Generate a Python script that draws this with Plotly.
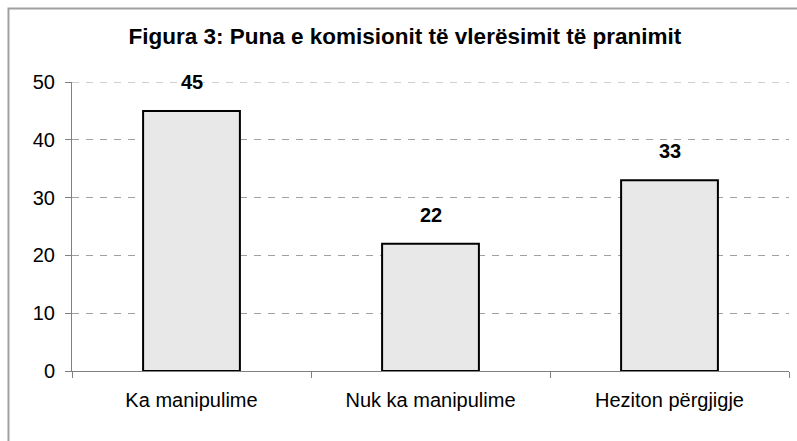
import plotly.graph_objects as go

categories = ["Ka manipulime", "Nuk ka manipulime", "Heziton përgjigje"]
values = [45, 22, 33]
title_text = "Figura 3: Puna e komisionit të vlerësimit të pranimit"
y_ticks = [0, 10, 20, 30, 40, 50]

FONT = "Liberation Sans, Arial, sans-serif"

fig = go.Figure()
fig.add_trace(go.Bar(
    x=categories, y=values, width=0.405,
    marker=dict(color="#E8E8E8", line=dict(color="#000000", width=2)),
    hoverinfo="skip",
))

for c, v in zip(categories, values):
    fig.add_annotation(x=c, y=v, text="<b>%d</b>" % v, showarrow=False,
                       yshift=29, font=dict(family=FONT, size=20, color="#000"))

fig.update_layout(
    width=797, height=441,
    margin=dict(l=72, r=8, t=82, b=70),
    paper_bgcolor="white", plot_bgcolor="white",
    showlegend=False,
    title=dict(text="<b>" + title_text + "</b>", x=0.508, xanchor="center",
               y=0.918, yanchor="middle", xref="container", yref="container",
               font=dict(family=FONT, size=22.5, color="#000")),
    font=dict(family=FONT, size=20, color="#000"),
    bargap=0.6,
)

fig.update_yaxes(range=[0, y_ticks[-1]], tickvals=y_ticks, showgrid=True,
                 gridcolor="#A0A0A0", griddash="7px,7px", gridwidth=1,
                 showline=True, linecolor="#808080", linewidth=1,
                 ticks="outside", ticklen=6, tickcolor="#808080",
                 zeroline=False, ticklabelstandoff=6,
                 tickfont=dict(family=FONT, size=20, color="#000"))
fig.update_xaxes(range=[-0.5, 2.5], showline=True, linecolor="#808080",
                 linewidth=1, ticks="outside", tickson="boundaries",
                 ticklen=6, tickcolor="#808080", showgrid=False,
                 ticklabelstandoff=11,
                 tickfont=dict(family=FONT, size=20, color="#000"))

# top gridline (Plotly omits the gridline at the range edge)
fig.add_shape(type="line", xref="paper", yref="y", x0=0, x1=1,
              y0=y_ticks[-1], y1=y_ticks[-1],
              line=dict(color="#A0A0A0", width=1, dash="7px,7px"),
              layer="below")

# outer chart border (extends past right/bottom edge of the image)
fig.add_shape(type="rect", xref="paper", yref="paper",
              x0=-0.0886, x1=1.02, y0=-0.27, y1=1.254,
              line=dict(color="#A0A0A0", width=2), layer="above")

fig.write_html("out.html", config={"displayModeBar": False},
               post_script="document.body.style.margin='0';"
                           "document.body.style.overflow='hidden';")
